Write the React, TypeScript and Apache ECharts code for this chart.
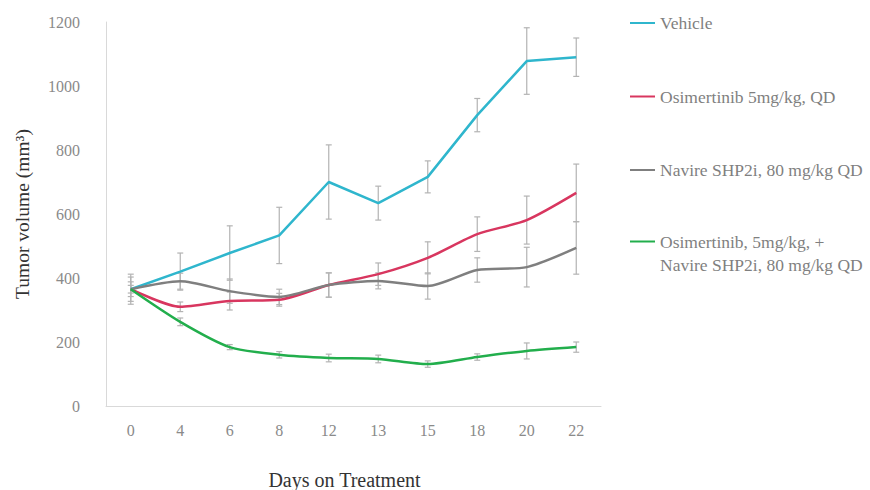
import React, { useEffect, useRef } from "react";
import * as echarts from "echarts";

const days = ["0", "4", "6", "8", "12", "13", "15", "18", "20", "22"];
const seriesNames = [
  "Vehicle",
  "Osimertinib 5mg/kg, QD",
  "Navire SHP2i, 80 mg/kg QD",
  "Osimertinib, 5mg/kg, + Navire SHP2i, 80 mg/kg QD",
];
const comboLegendLines = ["Osimertinib, 5mg/kg, +", "Navire SHP2i, 80 mg/kg QD"];
const vehicle = [365, 420, 478, 533, 700, 634, 716, 909, 1078, 1090];
const vehicleErr = [47, 58, 85, 88, 116, 53, 50, 52, 104, 60];
const osim = [365, 310, 328, 332, 378, 412, 463, 537, 581, 666];
const osimErr = [23, 15, 28, 20, 38, 35, 50, 54, 75, 90];
const navire = [365, 390, 359, 341, 378, 391, 375, 425, 434, 494];
const navireErr = [38, 25, 38, 24, 38, 25, 41, 38, 62, 82];
const combo = [365, 263, 184, 160, 150, 147, 131, 153, 172, 184];
const comboErr = [12, 12, 8, 10, 12, 12, 10, 10, 25, 16];
const yTicks = { min: 0, max: 1200, interval: 200 };

const colors = ["#2fb6cd", "#d8365f", "#7f7f7f", "#22ae4c"];
const FONT = "'Liberation Serif', 'DejaVu Serif', serif";

export default function App() {
  const ref = useRef<HTMLDivElement>(null);
  useEffect(() => {
    if (!ref.current) return;
    const chart = echarts.init(ref.current, undefined, { renderer: "svg" });

    const values = [vehicle, osim, navire, combo];
    const errs = [vehicleErr, osimErr, navireErr, comboErr];

    const errSeries = values.map((vals, k) => ({
      type: "custom",
      name: "err" + k,
      silent: true,
      z: 1,
      renderItem: (params: any, api: any) => {
        const i = api.value(0);
        const lo = api.coord([i, api.value(1)]);
        const hi = api.coord([i, api.value(2)]);
        const hw = 3;
        const st = { stroke: "#b3b3b3", lineWidth: 1.2 };
        return {
          type: "group",
          children: [
            { type: "line", shape: { x1: lo[0], y1: lo[1], x2: hi[0], y2: hi[1] }, style: st },
            { type: "line", shape: { x1: lo[0] - hw, y1: lo[1], x2: lo[0] + hw, y2: lo[1] }, style: st },
            { type: "line", shape: { x1: hi[0] - hw, y1: hi[1], x2: hi[0] + hw, y2: hi[1] }, style: st },
          ],
        };
      },
      data: vals.map((v, i) => [i, v - errs[k][i], v + errs[k][i]]),
    }));

    const lineSeries = values.map((vals, k) => ({
      type: "line",
      name: seriesNames[k],
      data: vals,
      symbol: "none",
      smooth: k === 0 ? false : 0.25,
      z: 3,
      lineStyle: { color: colors[k], width: 2.5 },
      itemStyle: { color: colors[k] },
    }));

    chart.setOption({
      animation: false,
      textStyle: { fontFamily: FONT },
      grid: {
        left: 106,
        right: 269,
        top: 22,
        bottom: 84,
        containLabel: false,
        outerBoundsMode: "none",
      },
      legend: [
        {
          orient: "vertical",
          left: 624,
          top: 7,
          itemWidth: 25,
          itemHeight: 14,
          itemGap: 51.5,
          itemStyle: { opacity: 0 },
          textStyle: { color: "#7f7f7f", fontSize: 17.5, fontFamily: FONT, lineHeight: 22 },
          data: seriesNames.slice(0, 3),
          selectedMode: false,
        },
        {
          orient: "vertical",
          left: 624,
          top: 202,
          itemWidth: 25,
          itemHeight: 14,
          itemStyle: { opacity: 0 },
          textStyle: { color: "#7f7f7f", fontSize: 17.5, fontFamily: FONT, lineHeight: 23 },
          formatter: () => "\n" + comboLegendLines.join("\n"),
          data: [seriesNames[3]],
          selectedMode: false,
        },
      ],
      xAxis: {
        type: "category",
        data: days,
        boundaryGap: true,
        axisLine: { show: true, lineStyle: { color: "#d9d9d9", width: 1 } },
        axisTick: { show: false },
        axisLabel: { color: "#8a8a8a", fontSize: 16, margin: 16, fontFamily: FONT },
        name: "Days on Treatment",
        nameLocation: "middle",
        nameGap: 64,
        nameTextStyle: {
          color: "#333",
          fontSize: 20,
          fontFamily: FONT,
          lineHeight: 20,
          padding: [0, 18, 0, 0],
        },
      },
      yAxis: {
        type: "value",
        min: yTicks.min,
        max: yTicks.max,
        interval: yTicks.interval,
        axisLine: { show: true, lineStyle: { color: "#d9d9d9", width: 1 } },
        axisTick: { show: false },
        splitLine: { show: false },
        axisLabel: {
          color: "#8a8a8a",
          fontSize: 16,
          margin: 26,
          fontFamily: FONT,
          formatter: (v: number) => String(v),
        },
        name: "Tumor volume (mm³)",
        nameLocation: "middle",
        nameGap: 74,
        nameTextStyle: { color: "#333", fontSize: 19.5, fontFamily: FONT },
      },
      series: [...errSeries, ...lineSeries],
    });
    return () => chart.dispose();
  }, []);
  return (
    <div
      ref={ref}
      style={{ position: "absolute", left: 0, top: 0, width: 870, height: 490 }}
    />
  );
}
